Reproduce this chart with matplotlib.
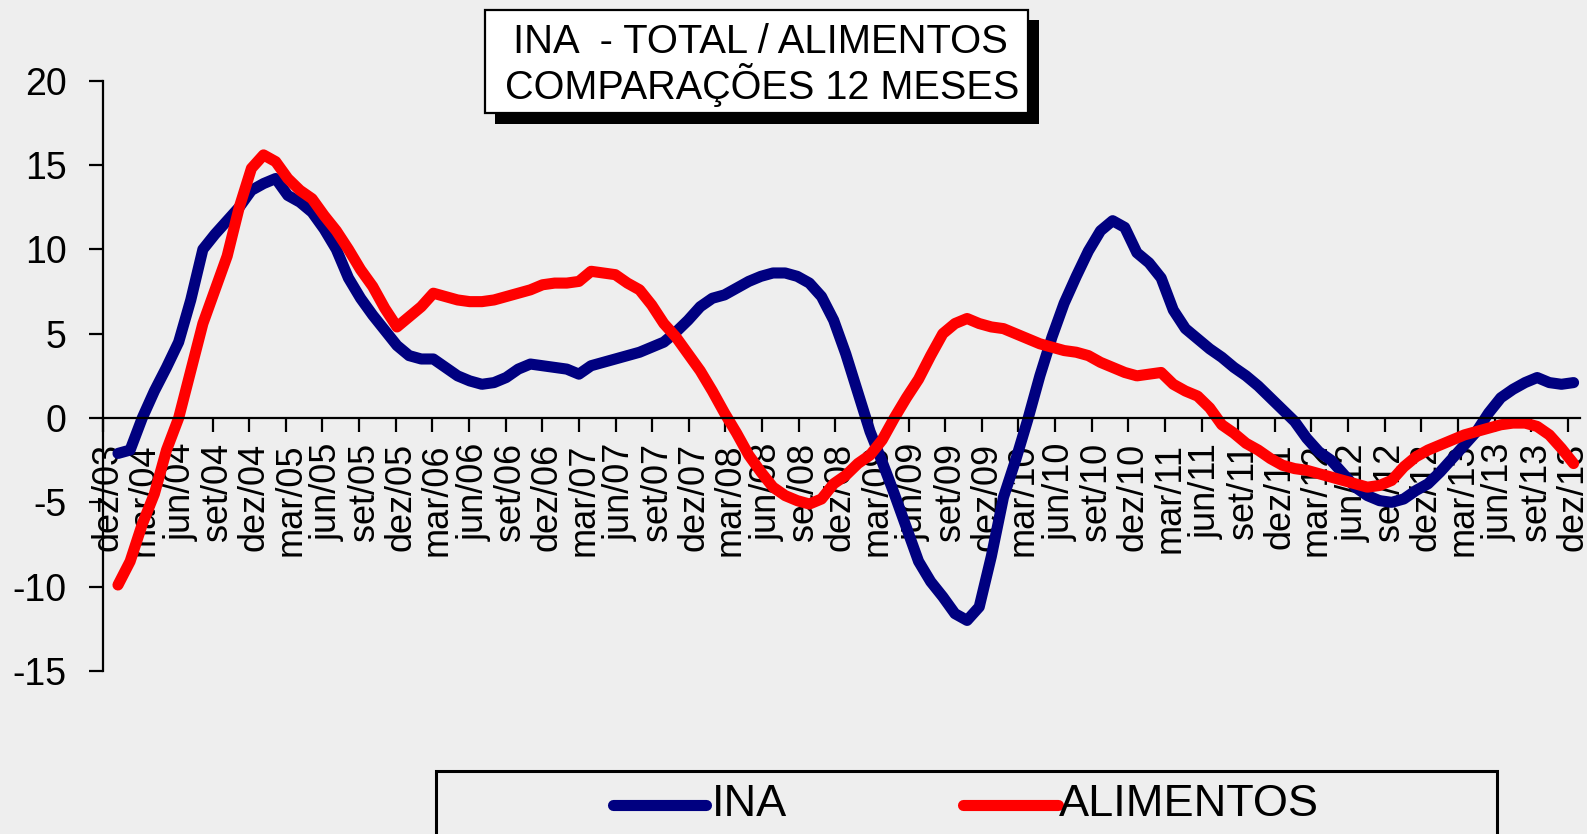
import matplotlib
matplotlib.use("Agg")
import matplotlib.pyplot as plt
from matplotlib.patches import Rectangle
from matplotlib.lines import Line2D
from matplotlib.transforms import ScaledTranslation

plt.rcParams['font.family'] = ['Liberation Sans', 'DejaVu Sans']

# ---------------- data (monthly, dez/03 .. dez/13) ----------------
ina = [-2.1, -1.9, 0.0, 1.6, 3.0, 4.5, 7.0, 10.0, 10.9, 11.7,
       12.5, 13.5, 13.9, 14.2, 13.2, 12.8, 12.2, 11.2, 10.0, 8.3,
       7.1, 6.1, 5.2, 4.3, 3.7, 3.5, 3.5, 3.0, 2.5, 2.2,
       2.0, 2.1, 2.4, 2.9, 3.2, 3.1, 3.0, 2.9, 2.6, 3.1,
       3.3, 3.5, 3.7, 3.9, 4.2, 4.5, 5.1, 5.8, 6.6, 7.1,
       7.3, 7.7, 8.1, 8.4, 8.6, 8.6, 8.4, 8.0, 7.2, 5.8,
       3.8, 1.5, -0.8, -2.6, -4.5, -6.5, -8.5, -9.7, -10.6, -11.6,
       -12.0, -11.2, -8.2, -4.7, -2.5, -0.1, 2.5, 4.8, 6.8, 8.4,
       9.9, 11.1, 11.7, 11.3, 9.8, 9.2, 8.3, 6.4, 5.3, 4.7,
       4.1, 3.6, 3.0, 2.5, 1.9, 1.2, 0.5, -0.2, -1.2, -2.0,
       -2.5, -3.3, -4.1, -4.6, -4.9, -5.0, -4.8, -4.3, -3.9, -3.2,
       -2.4, -1.6, -0.8, 0.3, 1.2, 1.7, 2.1, 2.4, 2.1, 2.0,
       2.1]

alimentos = [-9.9, -8.5, -6.3, -4.5, -1.9, 0.0, 2.8, 5.6, 7.6, 9.6,
             12.5, 14.8, 15.6, 15.2, 14.2, 13.5, 13.0, 12.0, 11.1, 10.0,
             8.8, 7.8, 6.5, 5.4, 6.0, 6.6, 7.4, 7.2, 7.0, 6.9,
             6.9, 7.0, 7.2, 7.4, 7.6, 7.9, 8.0, 8.0, 8.1, 8.7,
             8.6, 8.5, 8.0, 7.6, 6.7, 5.6, 4.8, 3.8, 2.8, 1.6,
             0.3, -0.9, -2.2, -3.2, -4.1, -4.6, -4.9, -5.1, -4.8, -3.9,
             -3.4, -2.7, -2.2, -1.3, 0.0, 1.2, 2.3, 3.7, 5.0, 5.6,
             5.9, 5.6, 5.4, 5.3, 5.0, 4.7, 4.4, 4.2, 4.0, 3.9,
             3.7, 3.3, 3.0, 2.7, 2.5, 2.6, 2.7, 2.0, 1.6, 1.3,
             0.6, -0.4, -0.9, -1.5, -1.9, -2.4, -2.8, -3.0, -3.1, -3.3,
             -3.5, -3.7, -3.9, -4.1, -4.0, -3.7, -2.9, -2.3, -1.9, -1.6,
             -1.3, -1.0, -0.8, -0.6, -0.4, -0.3, -0.3, -0.5, -1.0, -1.8,
             -2.7]

tick_labels = ['dez/03', 'mar/04', 'jun/04', 'set/04',
               'dez/04', 'mar/05', 'jun/05', 'set/05',
               'dez/05', 'mar/06', 'jun/06', 'set/06',
               'dez/06', 'mar/07', 'jun/07', 'set/07',
               'dez/07', 'mar/08', 'jun/08', 'set/08',
               'dez/08', 'mar/09', 'jun/09', 'set/09',
               'dez/09', 'mar/10', 'jun/10', 'set/10',
               'dez/10', 'mar/11', 'jun/11', 'set/11',
               'dez/11', 'mar/12', 'jun/12', 'set/12',
               'dez/12', 'mar/13', 'jun/13', 'set/13',
               'dez/13']

title_lines = ['INA  - TOTAL / ALIMENTOS', 'COMPARAÇÕES 12 MESES']
series_names = ['INA', 'ALIMENTOS']
series_colors = ['#000080', '#ff0000']
y_ticks = [-15, -10, -5, 0, 5, 10, 15, 20]

# ---------------- figure ----------------
W, H = 1587, 834
fig = plt.figure(figsize=(W / 100, H / 100), dpi=100, facecolor='#eeeeee')


def fx(x):
    return x / W


def fy(y):
    return 1 - y / H


ax = fig.add_axes([fx(102.7), fy(671), fx(1580) - fx(102.7), fy(80.7) - fy(671)])
ax.set_facecolor('none')

months = list(range(len(ina)))
ax.plot(months, ina, color=series_colors[0], lw=8, solid_joinstyle='round',
        solid_capstyle='round')
ax.plot(months, alimentos, color=series_colors[1], lw=8, solid_joinstyle='round',
        solid_capstyle='round')

x0 = -1.26
ax.set_xlim(x0, x0 + (1580 - 102.7) / 12.13)
ax.set_ylim(-15, 20)

ax.spines['top'].set_visible(False)
ax.spines['right'].set_visible(False)
ax.spines['bottom'].set_position(('data', 0))
ax.spines['left'].set_linewidth(1.6)
ax.spines['bottom'].set_linewidth(1.6)

ax.set_yticks(y_ticks)
ax.set_yticklabels([str(v) for v in y_ticks], fontsize=27)
ax.tick_params(axis='y', direction='out', length=10, width=1.6, pad=16)

step = 36.63 / 12.13
ax.set_xticks([x0 + step * k for k in range(len(tick_labels))])
ax.set_xticklabels(tick_labels, rotation=90, fontsize=26, va='top', ha='center')
ax.tick_params(axis='x', direction='out', length=10, width=1.6, pad=8)
off = ScaledTranslation(5 / 100, 0, fig.dpi_scale_trans)
for lab in ax.get_xticklabels():
    lab.set_transform(lab.get_transform() + off)

# ---------------- title box with shadow ----------------
fig.add_artist(Rectangle((fx(495), fy(124)), fx(1039) - fx(495), fy(20) - fy(124),
                         transform=fig.transFigure, facecolor='black', edgecolor='none'))
fig.add_artist(Rectangle((fx(485), fy(113)), fx(1028) - fx(485), fy(10) - fy(113),
                         transform=fig.transFigure, facecolor='white', edgecolor='black',
                         linewidth=1.6))
fig.text(fx(760), fy(42), title_lines[0], ha='center', va='center', fontsize=28.8)
fig.text(fx(762), fy(85), title_lines[1], ha='center', va='center', fontsize=28.5)

# ---------------- legend box ----------------
fig.add_artist(Rectangle((fx(436), fy(850)), fx(1497) - fx(436), fy(771) - fy(850),
                         transform=fig.transFigure, facecolor='none', edgecolor='black',
                         linewidth=2.2))
for (xa, xb, xt), name, col in zip([(613, 706, 712), (963, 1058, 1059)],
                                   series_names, series_colors):
    fig.add_artist(Line2D([fx(xa), fx(xb)], [fy(805), fy(805)], transform=fig.transFigure,
                          color=col, lw=8, solid_capstyle='round'))
    fig.text(fx(xt), fy(805), name, ha='left', va='center', fontsize=32.5)

fig.savefig('out.png', dpi=100, facecolor=fig.get_facecolor())
